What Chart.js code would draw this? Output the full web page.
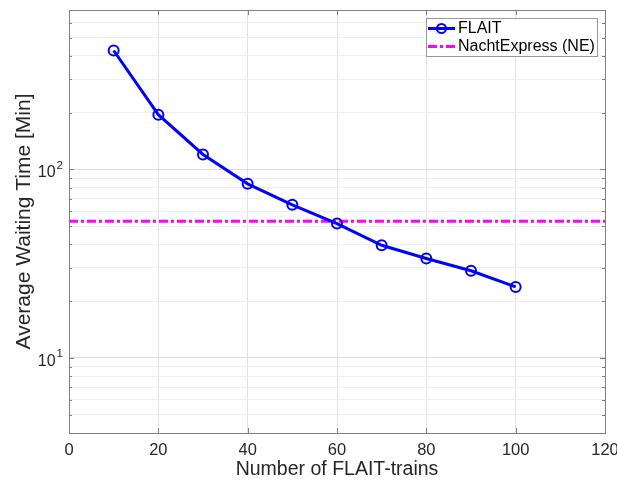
<!DOCTYPE html>
<html lang="en">
<head>
  <meta charset="UTF-8" />
  <title>Average Waiting Time</title>
  <script src="https://cdn.jsdelivr.net/npm/chart.js"></script>
  <style>
    body { margin: 0; background: #fff; }
    #grafico { display: block; }
  </style>
</head>
<body>
  <canvas id="grafico" width="617" height="482"></canvas>

<script>
  // data
  const trains = [10, 20, 30, 40, 50, 60, 70, 80, 90, 100];
  const flaitWait = [427, 195, 120, 83.8, 64.9, 51.6, 39.6, 33.7, 29.0, 23.8];
  const neWait = 53.1;
  const neRange = [0, 120];

  const xTicks = [0, 20, 40, 60, 80, 100, 120];
  const yMajor = [10, 100];
  const yMajorBase = ["10", "10"];
  const yMajorExp = ["1", "2"];
  const yMinor = [4, 5, 6, 7, 8, 9, 20, 30, 40, 50, 60, 70, 80, 90, 200, 300, 400, 500, 600, 700];

  const fonte = "'Liberation Sans', Arial, sans-serif";
  const corTexto = "#262626";
  const corEixo = "#7f7f7f";

  const yTicks = [...yMinor, ...yMajor].sort((a, b) => a - b);

  // box, inner tick marks, y labels with exponent and legend (matlab style)
  const moldura = {
    id: "moldura",
    afterDraw(chart) {
      const ctx = chart.ctx;
      const a = chart.chartArea;
      const sx = chart.scales.x;
      const sy = chart.scales.y;
      ctx.save();
      ctx.strokeStyle = corEixo;
      ctx.lineWidth = 1;
      ctx.beginPath();
      xTicks.forEach(v => {
        const px = Math.round(sx.getPixelForValue(v)) + 0.5;
        ctx.moveTo(px, a.bottom); ctx.lineTo(px, a.bottom - 5);
        ctx.moveTo(px, a.top); ctx.lineTo(px, a.top + 5);
      });
      yTicks.forEach(v => {
        const py = Math.round(sy.getPixelForValue(v)) + 0.5;
        const len = yMajor.includes(v) ? 5 : 3;
        ctx.moveTo(a.left, py); ctx.lineTo(a.left + len, py);
        ctx.moveTo(a.right, py); ctx.lineTo(a.right - len, py);
      });
      ctx.stroke();
      ctx.strokeRect(Math.round(a.left) + 0.5, Math.round(a.top) + 0.5,
        Math.round(a.right - a.left), Math.round(a.bottom - a.top));

      // y labels 10^n
      ctx.fillStyle = corTexto;
      ctx.textBaseline = "alphabetic";
      ctx.textAlign = "right";
      yMajor.forEach((v, i) => {
        const py = sy.getPixelForValue(v);
        ctx.font = "11.5px " + fonte;
        const we = ctx.measureText(yMajorExp[i]).width;
        const xr = a.left - 6;
        ctx.fillText(yMajorExp[i], xr, py - 0.5);
        ctx.font = "16px " + fonte;
        ctx.fillText(yMajorBase[i], xr - we - 1, py + 8);
      });
      ctx.textAlign = "left";

      // legend
      const lx = 426, ly = 18, lw = 171, lh = 38;
      ctx.fillStyle = "#fff";
      ctx.fillRect(lx, ly, lw, lh);
      ctx.strokeStyle = "#999";
      ctx.strokeRect(lx + 0.5, ly + 0.5, lw, lh);

      const ds = chart.data.datasets;
      const linhas = [ly + 10.5, ly + 28.5];
      ds.forEach((d, i) => {
        const yy = linhas[i];
        ctx.strokeStyle = d.borderColor;
        ctx.lineWidth = 3;
        ctx.setLineDash(d.borderDash || []);
        ctx.beginPath();
        ctx.moveTo(lx + 2, yy); ctx.lineTo(lx + 29, yy);
        ctx.stroke();
        ctx.setLineDash([]);
        if (d.pointRadius > 0) {
          ctx.lineWidth = 2;
          ctx.beginPath();
          ctx.arc(lx + 15.5, yy, 4.5, 0, Math.PI * 2);
          ctx.stroke();
        }
        ctx.fillStyle = "#000";
        ctx.font = "16px " + fonte;
        ctx.textBaseline = "middle";
        ctx.fillText(d.label, lx + 32, yy);
      });
      ctx.restore();
    }
  };

  new Chart(document.getElementById("grafico"), {
    type: "line",
    data: {
      datasets: [
        {
          label: "FLAIT",
          data: trains.map((t, i) => ({ x: t, y: flaitWait[i] })),
          borderColor: "#0000ff",
          borderWidth: 3,
          pointRadius: 5,
          pointHoverRadius: 5,
          pointBorderWidth: 2,
          pointBorderColor: "#0000ff",
          pointBackgroundColor: "rgba(0,0,0,0)",
          tension: 0
        },
        {
          label: "NachtExpress (NE)",
          data: neRange.map(t => ({ x: t, y: neWait })),
          borderColor: "#ff00ff",
          borderWidth: 3,
          borderDash: [9, 3, 3, 3],
          pointRadius: 0,
          tension: 0
        }
      ]
    },
    options: {
      responsive: false,
      devicePixelRatio: 1,
      animation: false,
      layout: { autoPadding: false, padding: { top: 10, right: 12, left: 0, bottom: 0 } },
      plugins: {
        legend: { display: false },
        tooltip: { enabled: false }
      },
      scales: {
        x: {
          type: "linear",
          min: 0,
          max: 120,
          afterBuildTicks: s => { s.ticks = xTicks.map(v => ({ value: v })); },
          afterFit: s => {
            s.height = 49;
            s.paddingLeft = 0;
            s.paddingRight = 0;
          },
          grid: { color: "#e3e3e3", drawTicks: false },
          border: { display: false },
          ticks: {
            color: corTexto,
            font: { family: fonte, size: 16.5 },
            padding: 8,
            maxRotation: 0
          },
          title: {
            display: true,
            text: "Number of FLAIT-trains",
            color: corTexto,
            font: { family: fonte, size: 19.5 },
            padding: { top: 0, bottom: 1 }
          }
        },
        y: {
          type: "logarithmic",
          min: 4,
          max: 700,
          afterBuildTicks: s => { s.ticks = yTicks.map(v => ({ value: v })); },
          afterFit: s => {
            s.width = 69;
            s.paddingTop = 0;
            s.paddingBottom = 0;
          },
          grid: {
            drawTicks: false,
            color: c => yMajor.includes(c.tick.value) ? "#dcdcdc" : "#efefef"
          },
          border: { display: false },
          ticks: { display: false },
          title: {
            display: true,
            text: "Average Waiting Time [Min]",
            color: corTexto,
            font: { family: fonte, size: 21 },
            padding: { top: 12, bottom: 0 }
          }
        }
      }
    },
    plugins: [moldura]
  });
</script>
</body>
</html>
